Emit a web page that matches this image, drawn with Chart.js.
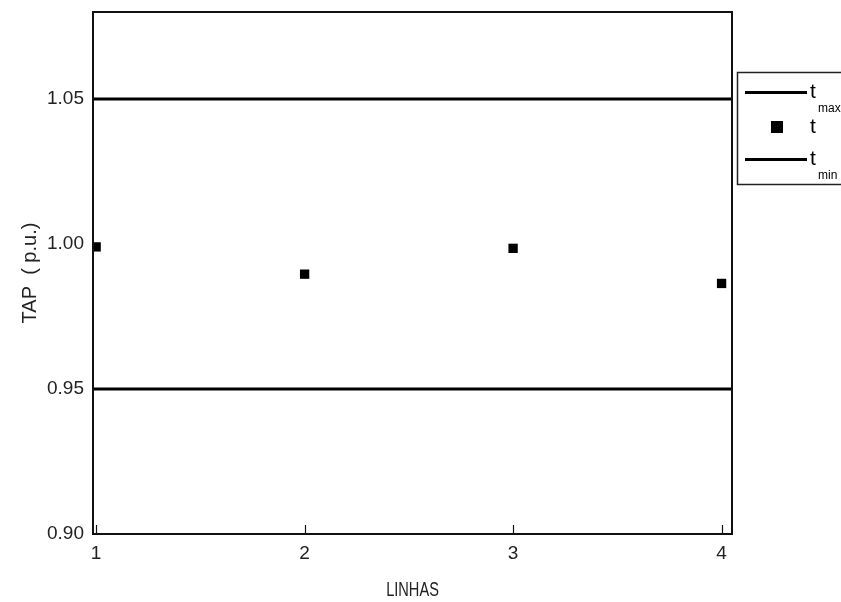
<!DOCTYPE html>
<html>
<head>
<meta charset="utf-8">
<script src="https://cdn.jsdelivr.net/npm/chart.js@4/dist/chart.umd.min.js"></script>
<style>
  html, body { margin: 0; padding: 0; background: #fff; }
  #wrap { width: 841px; height: 602px; position: relative; overflow: hidden; }
</style>
</head>
<body>
<div id="wrap"><canvas id="c" width="841" height="602"></canvas></div>
<script>
// Transformer tap per line, with its allowed limits
const LINES = [1, 2, 3, 4];
const TAP = [0.9990, 0.9896, 0.9985, 0.9864];
const T_MAX = 1.05;
const T_MIN = 0.95;
const X_RANGE = [0.985, 4.05];
const Y_RANGE = [0.90, 1.08];
const Y_TICKS = [0.90, 0.95, 1.00, 1.05];
const X_TICKS = [1, 2, 3, 4];
const X_TITLE = 'LINHAS';

const FONT = "'Liberation Sans', Arial, sans-serif";

// Frame around the plot area, short inward ticks on the x axis,
// and a condensed x-axis title
const framePlugin = {
  id: 'frame',
  afterDatasetsDraw(chart) {
    const { ctx, chartArea: a, scales } = chart;
    ctx.save();
    ctx.strokeStyle = '#111';
    ctx.lineWidth = 1.2;
    X_TICKS.forEach(v => {
      const x = Math.round(scales.x.getPixelForValue(v)) + 0.5;
      ctx.beginPath();
      ctx.moveTo(x, a.bottom);
      ctx.lineTo(x, a.bottom - 9);
      ctx.stroke();
    });
    ctx.lineWidth = 2;
    ctx.strokeRect(a.left, a.top, a.right - a.left, a.bottom - a.top);

    ctx.fillStyle = '#222';
    ctx.font = '20px ' + FONT;
    ctx.textAlign = 'center';
    ctx.textBaseline = 'middle';
    ctx.translate((a.left + a.right) / 2, 590);
    ctx.scale(0.73, 1);
    ctx.fillText(X_TITLE, 0, 0);
    ctx.restore();
  }
};

// Boxed legend to the right of the plot; subscripts drawn smaller and lower
const legendPlugin = {
  id: 'boxLegend',
  afterDraw(chart) {
    const { ctx } = chart;
    const bx = 737, by = 72, bw = 130, bh = 112;
    ctx.save();
    ctx.fillStyle = '#fff';
    ctx.fillRect(bx, by, bw, bh);
    ctx.strokeStyle = '#222';
    ctx.lineWidth = 1.5;
    ctx.strokeRect(bx + 0.5, by + 0.5, bw, bh);
    const rows = [92.5, 127, 159.5];
    chart.data.datasets.forEach((ds, i) => {
      const y = rows[i];
      ctx.fillStyle = '#000';
      ctx.strokeStyle = '#000';
      if (ds.showLine) {
        ctx.lineWidth = 3.2;
        ctx.beginPath();
        ctx.moveTo(745, y);
        ctx.lineTo(807, y);
        ctx.stroke();
      } else {
        ctx.fillRect(771, y - 6, 12, 12);
      }
      ctx.font = '21px ' + FONT;
      ctx.textBaseline = 'alphabetic';
      ctx.textAlign = 'left';
      const tx = 810;
      const ty = ds.showLine ? y + 5 : y + 6;
      ctx.fillText(ds.legendMain, tx, ty);
      if (ds.legendSub) {
        ctx.font = '12px ' + FONT;
        ctx.fillText(ds.legendSub, tx + 8, ty + 14);
      }
    });
    ctx.restore();
  }
};

const lineSeg = v => [{ x: X_RANGE[0], y: v }, { x: X_RANGE[1], y: v }];

new Chart(document.getElementById('c'), {
  type: 'scatter',
  data: {
    datasets: [
      {
        label: 't_max', legendMain: 't', legendSub: 'max',
        data: lineSeg(T_MAX), showLine: true,
        borderColor: '#000', borderWidth: 3.2, pointRadius: 0
      },
      {
        label: 't', legendMain: 't',
        data: LINES.map((x, i) => ({ x, y: TAP[i] })), showLine: false,
        pointStyle: 'rect', pointRadius: 6.6,
        backgroundColor: '#000', borderColor: '#000', borderWidth: 0
      },
      {
        label: 't_min', legendMain: 't', legendSub: 'min',
        data: lineSeg(T_MIN), showLine: true,
        borderColor: '#000', borderWidth: 3.2, pointRadius: 0
      }
    ]
  },
  options: {
    responsive: false,
    animation: false,
    devicePixelRatio: 1,
    layout: { padding: { left: 0, top: 12, right: 109, bottom: 0 } },
    plugins: { legend: { display: false }, tooltip: { enabled: false } },
    scales: {
      x: {
        type: 'linear', min: X_RANGE[0], max: X_RANGE[1],
        afterBuildTicks: s => { s.ticks = X_TICKS.map(v => ({ value: v })); },
        afterFit: s => { s.height = 68; s.paddingLeft = 0; s.paddingRight = 0; },
        grid: { display: false, drawTicks: false },
        border: { display: false },
        ticks: { color: '#222', font: { family: FONT, size: 19 }, padding: 8, callback: v => String(v) },
        title: { display: false }
      },
      y: {
        type: 'linear', min: Y_RANGE[0], max: Y_RANGE[1],
        afterBuildTicks: s => { s.ticks = Y_TICKS.map(v => ({ value: v })); },
        afterFit: s => { s.width = 93; s.paddingTop = 0; s.paddingBottom = 0; },
        grid: { display: false, drawTicks: false },
        border: { display: false },
        ticks: { color: '#222', font: { family: FONT, size: 19 }, padding: 9, callback: v => Number(v).toFixed(2) },
        title: { display: true, text: 'TAP\u00a0\u00a0(\u00a0p.u.)', color: '#222', font: { family: FONT, size: 20 }, padding: { top: 18, bottom: 0 } }
      }
    }
  },
  plugins: [framePlugin, legendPlugin]
});
</script>
</body>
</html>
